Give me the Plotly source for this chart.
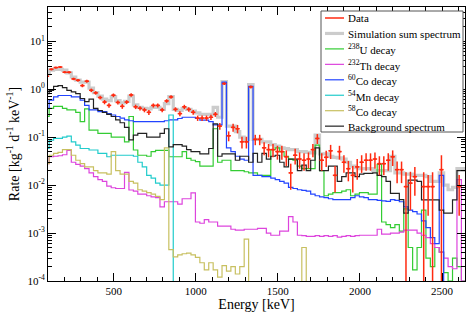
import plotly.graph_objects as go
import numpy as np

# ---------------- data (95 bins of 27 keV, 80 .. 2645 keV) ----------------
bin_edges = list(range(80, 2646, 27))

data_rate = [
    1.87, 2.6, 2.83, 2.9, 2.26, 2.26, 1.64, 1.54, 1.19, 1.47,
    0.95, 0.84, 0.67, 0.54, 0.46, 0.75, 0.53, 0.44, 0.54, 0.76,
    0.43, 0.40, 0.37, 0.33, 0.46, 0.46, 0.37, 0.57, 0.69, 0.38,
    0.31, 0.43, 0.38, 0.33, 0.25, 0.25, 0.25, 0.26, 0.30, 0.17,
    1.31, 0.107, 0.16, 0.15, 0.08, 0.08, 1.12, 0.09, 0.09, 0.06,
    0.055, 0.055, 0.05, 0.05, 0.039, 0.018, 0.042, 0.035, 0.033, 0.035,
    0.055, 0.094, 0.033, 0.038, 0.052, 0.016, 0.05, 0.03, 0.022, 0.016,
    0.024, 0.03, 0.033, 0.033, 0.035, 0.028, 0.028, 0.033, 0.039, 0.021,
    0.021, 0.0093, 0.011, 0.015, 0.0, 0.0093, 0.0093, 0.0093, 0.0, 0.021,
    0.0, 0.0, 0.0, 0.0093, 0.0,
]
data_err = [
    0.12, 0.13, 0.13, 0.13, 0.12, 0.12, 0.1, 0.1, 0.09, 0.1,
    0.08, 0.07, 0.06, 0.055, 0.05, 0.065, 0.05, 0.05, 0.05, 0.065,
    0.045, 0.042, 0.04, 0.04, 0.045, 0.045, 0.04, 0.05, 0.06, 0.04,
    0.037, 0.043, 0.04, 0.037, 0.032, 0.032, 0.032, 0.033, 0.035, 0.028,
    0.09, 0.025, 0.03, 0.03, 0.022, 0.022, 0.08, 0.022, 0.022, 0.018,
    0.017, 0.017, 0.016, 0.016, 0.014, 0.01, 0.015, 0.013, 0.013, 0.013,
    0.017, 0.022, 0.013, 0.014, 0.017, 0.009, 0.016, 0.012, 0.01, 0.009,
    0.011, 0.012, 0.013, 0.013, 0.013, 0.012, 0.012, 0.013, 0.014, 0.01,
    0.01, 0.0093, 0.008, 0.009, 0.0, 0.0093, 0.007, 0.0093, 0.0, 0.021,
    0.0, 0.0, 0.0, 0.007, 0.0,
]
sum_rate = [
    2.1, 2.5, 2.6, 2.6, 2.5, 2.2, 1.8, 1.55, 1.4, 1.4,
    1.05, 0.85, 0.72, 0.62, 0.58, 0.7, 0.58, 0.52, 0.56, 0.72,
    0.47, 0.42, 0.4, 0.39, 0.42, 0.42, 0.38, 0.5, 0.7, 0.38,
    0.36, 0.4, 0.38, 0.35, 0.32, 0.3, 0.3, 0.3, 0.42, 0.26,
    1.45, 0.17, 0.17, 0.13, 0.1, 0.09, 1.25, 0.09, 0.09, 0.08,
    0.08, 0.07, 0.065, 0.06, 0.058, 0.055, 0.055, 0.05, 0.05, 0.048,
    0.047, 0.11, 0.045, 0.045, 0.04, 0.038, 0.037, 0.035, 0.03, 0.025,
    0.023, 0.022, 0.022, 0.022, 0.02, 0.02, 0.02, 0.02, 0.04, 0.018,
    0.018, 0.017, 0.017, 0.016, 0.016, 0.016, 0.015, 0.012, 0.012, 0.018,
    0.01, 0.008, 0.009, 0.022, 0.022,
]
u238_rate = [
    0.27, 0.40, 0.44, 0.44, 0.40, 0.37, 0.37, 0.33, 0.21, 0.39,
    0.14, 0.14, 0.12, 0.12, 0.12, 0.10, 0.10, 0.10, 0.08, 0.27,
    0.054, 0.042, 0.042, 0.04, 0.05, 0.053, 0.053, 0.053, 0.039, 0.039,
    0.039, 0.05, 0.036, 0.033, 0.031, 0.025, 0.025, 0.025, 0.15, 0.03,
    0.033, 0.033, 0.02, 0.02, 0.02, 0.019, 0.018, 0.018, 0.016, 0.016,
    0.016, 0.055, 0.06, 0.05, 0.04, 0.035, 0.033, 0.025, 0.022, 0.022,
    0.022, 0.068, 0.02, 0.006, 0.0065, 0.007, 0.007, 0.0075, 0.008, 0.006,
    0.0065, 0.007, 0.007, 0.0065, 0.0065, 0.027, 0.0017, 0.0015, 0.0013, 0.0015,
    0.0011, 0.0032, 0.0005, 0.00017, 0.0005, 0.003, 0.0003, 0.0002, 0.0005, 0.0004,
    0.00015, 0.0001, 0.0003, 0.0002, 0.0001,
]
th232_rate = [
    0.028, 0.039, 0.040, 0.041, 0.043, 0.053, 0.030, 0.027, 0.025, 0.022,
    0.018, 0.015, 0.013, 0.012, 0.0095, 0.0088, 0.0085, 0.0085, 0.0185, 0.0079,
    0.0075, 0.0065, 0.0065, 0.006, 0.0057, 0.0055, 0.0035, 0.0045, 0.0045, 0.0045,
    0.004, 0.0052, 0.0052, 0.0069, 0.0017, 0.0016, 0.0019, 0.0017, 0.0017, 0.0014,
    0.0014, 0.0014, 0.0012, 0.00115, 0.00115, 0.0012, 0.0012, 0.0012, 0.00125, 0.00125,
    0.001, 0.0009, 0.0009, 0.0011, 0.0011, 0.0022, 0.0017, 0.0009, 0.00088, 0.00085,
    0.00085, 0.00088, 0.00085, 0.00088, 0.00085, 0.00088, 0.00082, 0.00085, 0.00088, 0.00085,
    0.00088, 0.0009, 0.0009, 0.0009, 0.0009, 0.0012, 0.00095, 0.00095, 0.001, 0.001,
    0.00105, 0.00115, 0.00115, 0.00115, 0.001, 0.0009, 0.0008, 0.0006, 0.0005, 0.0004,
    0.0003, 0.0002, 0.00018, 0.013, 0.0001,
]
co60_rate = [
    0.40, 0.59, 0.69, 0.74, 0.74, 0.74, 0.69, 0.69, 0.59, 0.46,
    0.37, 0.37, 0.34, 0.34, 0.31, 0.29, 0.27, 0.25, 0.23, 0.22,
    0.21, 0.21, 0.21, 0.21, 0.21, 0.21, 0.21, 0.22, 0.23, 0.23,
    0.245, 0.26, 0.26, 0.26, 0.245, 0.226, 0.226, 0.21, 0.18, 0.18,
    1.4, 0.06, 0.05, 0.04, 0.035, 0.033, 1.15, 0.016, 0.016, 0.015,
    0.015, 0.014, 0.013, 0.012, 0.011, 0.009, 0.0085, 0.008, 0.0078, 0.0075,
    0.0065, 0.006, 0.0057, 0.0055, 0.0052, 0.005, 0.005, 0.005, 0.005, 0.0055,
    0.006, 0.0057, 0.0055, 0.005, 0.005, 0.0048, 0.0047, 0.0046, 0.005, 0.0048,
    0.0045, 0.0035, 0.003, 0.0028, 0.0025, 0.0018, 0.0013, 0.0008, 0.0006, 0.016,
    0.0, 0.0, 0.0, 0.0, 0.0,
]
mn54_rate = [
    0.058, 0.087, 0.094, 0.094, 0.1, 0.105, 0.08, 0.068, 0.058, 0.058,
    0.054, 0.054, 0.046, 0.046, 0.039, 0.042, 0.042, 0.042, 0.042, 0.042,
    0.040, 0.030, 0.024, 0.016, 0.014, 0.011, 0.010, 0.010, 0.29, 0.0,
] + [0.0] * 65
co58_rate = [
    0.028, 0.042, 0.046, 0.048, 0.055, 0.055, 0.042, 0.033, 0.028, 0.024,
    0.024, 0.020, 0.018, 0.018, 0.017, 0.050, 0.02, 0.017, 0.017, 0.012,
    0.011, 0.008, 0.0075, 0.007, 0.0065, 0.0058, 0.005, 0.06, 0.00045, 0.00032,
    0.00035, 0.00037, 0.00038, 0.00035, 0.00031, 0.00024, 0.00017, 0.00024, 0.00017, 0.00012,
    0.00021, 0.00016, 0.0002, 0.00014, 0.0002, 0.00075, 0.0, 0.0, 0.0, 0.0,
    0.0, 0.0, 0.0, 0.0, 0.0, 0.0, 0.0, 0.0, 0.0005, 0.0,
] + [0.0] * 35
background_rate = [
    0.81, 0.95, 1.15, 1.19, 1.08, 0.95, 0.88, 0.81, 0.64, 0.55,
    0.62, 0.40, 0.36, 0.33, 0.30, 0.27, 0.23, 0.20, 0.16, 0.088,
    0.11, 0.12, 0.12, 0.10, 0.10, 0.10, 0.12, 0.15, 0.063, 0.07,
    0.07, 0.065, 0.055, 0.05, 0.05, 0.045, 0.045, 0.058, 0.19, 0.04,
    0.045, 0.045, 0.045, 0.033, 0.04, 0.04, 0.03, 0.046, 0.03, 0.046,
    0.035, 0.04, 0.042, 0.03, 0.024, 0.035, 0.035, 0.02, 0.026, 0.02,
    0.033, 0.06, 0.02, 0.02, 0.025, 0.025, 0.012, 0.015, 0.018, 0.018,
    0.015, 0.017, 0.0175, 0.0175, 0.018, 0.016, 0.015, 0.012, 0.0067, 0.0067,
    0.005, 0.0026, 0.0127, 0.0127, 0.012, 0.0049, 0.0049, 0.0049, 0.0049, 0.003,
    0.0026, 0.0026, 0.0049, 0.02, 0.02,
]

y_tick_values = [1e-4, 1e-3, 1e-2, 1e-1, 1e0, 1e1]
y_tick_labels = ["10<sup>-4</sup>", "10<sup>-3</sup>", "10<sup>-2</sup>",
                 "10<sup>-1</sup>", "10<sup>0</sup>", "10<sup>1</sup>"]
x_tick_values = [500, 1000, 1500, 2000, 2500]

# ---------------- helpers ----------------
edges = np.array(bin_edges, dtype=float)
n_bins = len(edges) - 1
for arr in (data_rate, data_err, sum_rate, u238_rate, th232_rate, co60_rate,
            mn54_rate, co58_rate, background_rate):
    assert len(arr) == n_bins, len(arr)

FLOOR = 1e-12  # empty bins drop to the bottom of the log axis


def step_xy(vals):
    v = np.array(vals, dtype=float)
    v = np.where(v > 0, v, FLOOR)
    return edges, np.append(v, v[-1])


FONT = "Liberation Serif"
RED = "#ff2a10"
W, H = 470, 312
ML, MR, MT, MB = 48, 5, 7, 31
PW, PH = W - ML - MR, H - MT - MB


def px(xp):
    return (xp - ML) / PW


def py(yp):
    return 1 - (yp - MT) / PH


fig = go.Figure()

series = [
    ("Simulation sum spectrum", sum_rate, "#cccccc", 3.2),
    ("<sup>238</sup>U decay", u238_rate, "#33cc33", 1.2),
    ("<sup>232</sup>Th decay", th232_rate, "#dd44dd", 1.2),
    ("<sup>60</sup>Co decay", co60_rate, "#2244ff", 1.2),
    ("<sup>54</sup>Mn decay", mn54_rate, "#22cccc", 1.2),
    ("<sup>58</sup>Co decay", co58_rate, "#c8c060", 1.2),
    ("Background spectrum", background_rate, "#222222", 1.2),
]
for name, vals, color, width in series:
    xs, ys = step_xy(vals)
    fig.add_trace(go.Scatter(
        x=xs, y=ys, mode="lines", name=name, line_shape="hv",
        line=dict(color=color, width=width), showlegend=False,
    ))

# data points with error bars
centers = 0.5 * (edges[:-1] + edges[1:])
half_w = 0.5 * (edges[1:] - edges[:-1])
d = np.array(data_rate, dtype=float)
e = np.array(data_err, dtype=float)
mask = d > 0
fig.add_trace(go.Scatter(
    x=centers[mask], y=d[mask], mode="markers", name="Data", showlegend=False,
    marker=dict(symbol="line-ew-open", size=2, color=RED,
                line=dict(color=RED, width=1.5)),
    error_x=dict(type="data", array=half_w[mask], color=RED,
                 thickness=1.5, width=0),
    error_y=dict(type="data", array=e[mask], color=RED,
                 thickness=1.5, width=0),
))

# ---------------- legend box (drawn as a ROOT-style legend) ----------------
legend_entries = [("Data", RED, 1.5)] + [(n, c, w) for n, _, c, w in series]
shapes = [dict(type="rect", xref="paper", yref="paper",
               x0=px(321), x1=px(463), y0=py(132), y1=py(11),
               fillcolor="white", line=dict(color="#555555", width=1),
               layer="above")]
annotations = []
row0, row_step = 18.0, 15.45
for i, (name, color, width) in enumerate(legend_entries):
    yc = row0 + i * row_step
    shapes.append(dict(type="line", xref="paper", yref="paper",
                       x0=px(325), x1=px(344), y0=py(yc), y1=py(yc),
                       line=dict(color=color, width=width), layer="above"))
    annotations.append(dict(xref="paper", yref="paper", x=px(345.5), y=py(yc + 0.5),
                            xanchor="left", yanchor="middle", showarrow=False,
                            text=name, font=dict(family=FONT, size=11, color="black")))

axis_common = dict(
    showline=True, linecolor="black", linewidth=1, mirror="allticks",
    ticks="inside", tickcolor="black", showgrid=False, zeroline=False,
    automargin=False,
    tickfont=dict(family=FONT, size=11, color="black"),
)

minor_y = [m * 10.0 ** p for p in range(-4, 2) for m in range(2, 10)]
fig.update_xaxes(
    range=[100, 2640], tickvals=x_tick_values, ticklen=8, tickwidth=1,
    minor=dict(tickvals=list(range(100, 2700, 100)), ticks="inside",
               ticklen=4, tickcolor="black"),
    title=dict(text="Energy [keV]", font=dict(family=FONT, size=14, color="black"),
               standoff=0),
    **axis_common,
)
fig.update_yaxes(
    type="log", range=[-4, 1.715], tickvals=y_tick_values, ticktext=y_tick_labels,
    ticklen=8, tickwidth=1,
    minor=dict(tickvals=minor_y, ticks="inside", ticklen=4, tickcolor="black"),
    title=dict(text="Rate [kg<sup>-1</sup> d<sup>-1</sup> keV<sup>-1</sup>]",
               font=dict(family=FONT, size=14, color="black"), standoff=4),
    **axis_common,
)

fig.update_layout(
    width=W, height=H,
    margin=dict(l=ML, r=MR, t=MT, b=MB),
    paper_bgcolor="white", plot_bgcolor="white",
    font=dict(family=FONT, size=11, color="black"),
    showlegend=False,
    shapes=shapes, annotations=annotations,
)

fig.write_html("out.html", config={"displayModeBar": False},
               post_script="document.body.style.margin='0px';")
